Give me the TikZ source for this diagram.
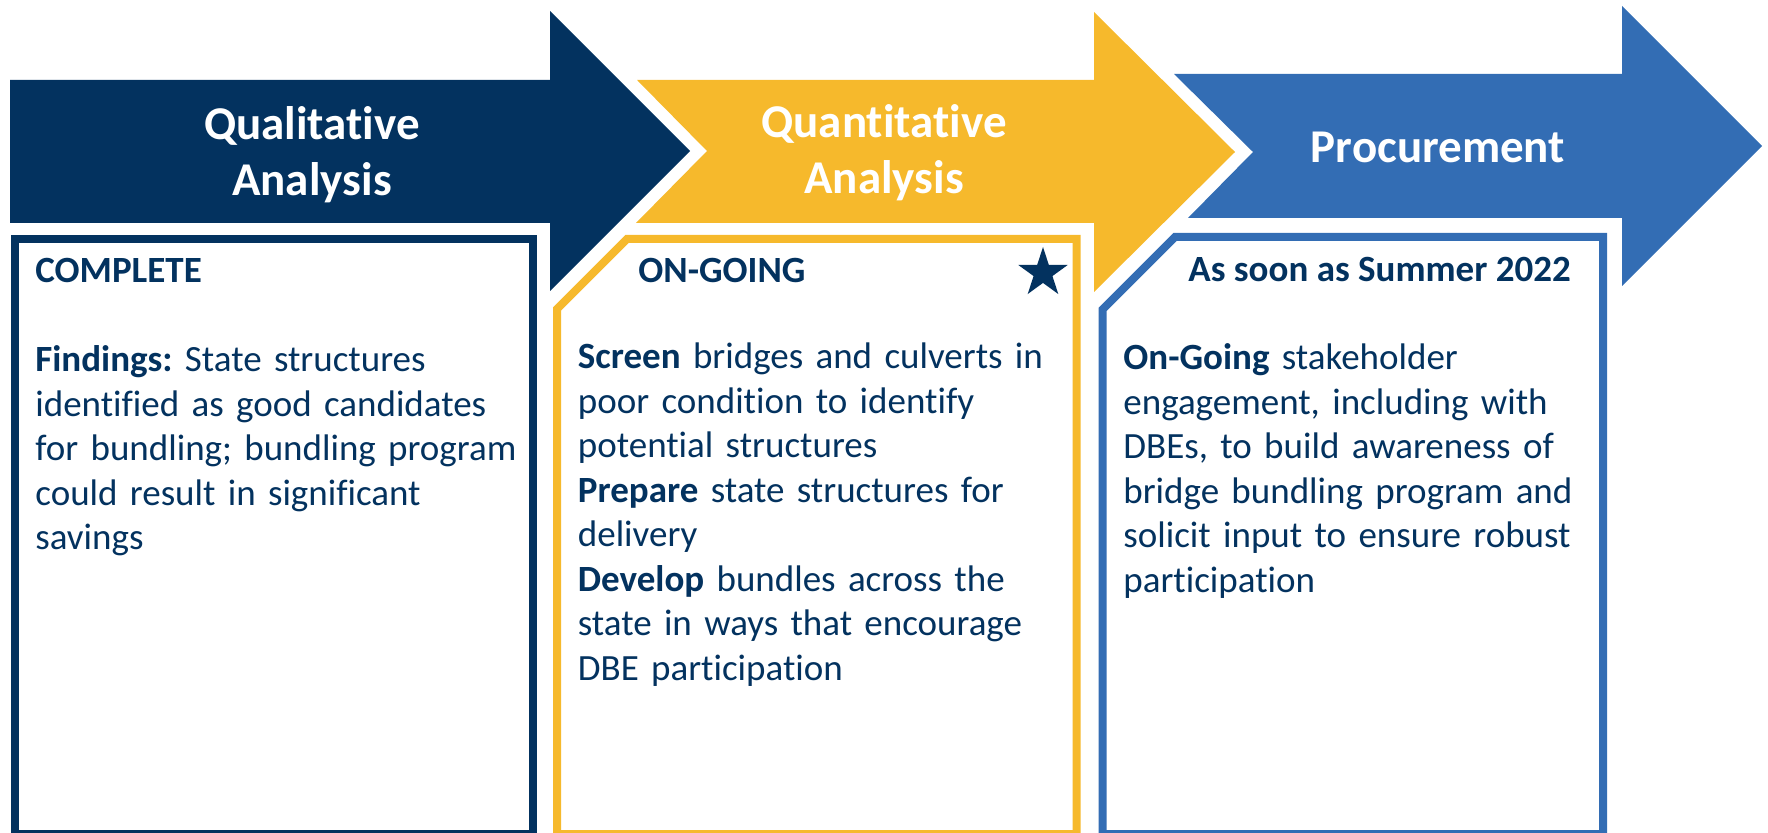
\documentclass[tikz,border=0pt]{standalone}
\usepackage{fontspec}
\setmainfont{Carlito}[Ligatures={NoCommon}]
\usetikzlibrary{shapes.geometric}
\definecolor{navy}{HTML}{03325F}
\definecolor{gold}{HTML}{F6B92C}
\definecolor{steel}{HTML}{336DB4}
\frenchspacing
\hyphenpenalty=10000
\exhyphenpenalty=10000
\begin{document}
\begin{tikzpicture}[x=0.5pt,y=-0.5pt,
  headtxt/.style={text=white,font=\fontsize{23.5}{28}\selectfont\bfseries,align=center,text width=160pt,inner sep=0pt,anchor=base},
  status/.style={text=navy,font=\fontsize{18.5}{22.25}\selectfont\bfseries,inner sep=0pt,anchor=base west},
  bodytxt/.style={text=navy,font=\fontsize{18.5}{22.25}\selectfont,align=left,text width=270pt,inner sep=0pt,anchor=base west},
  frame/.style={line width=4pt,fill=white,line join=miter}]
\useasboundingbox (0,0) rectangle (1768,833);
\clip (0,0) rectangle (1768,833);
% arrows
\fill[navy] (10,80) -- (550,80) -- (550,11) -- (690,151) -- (550,291) -- (550,223) -- (10,223) -- cycle;
\fill[gold] (637,80) -- (1094,80) -- (1094,12) -- (1235,152) -- (1094,292) -- (1094,223) -- (636,223) -- (707,151) -- cycle;
\fill[steel] (1174,74) -- (1622,74) -- (1622,6) -- (1762,146) -- (1622,286) -- (1622,218) -- (1188,218) -- (1253,152) -- cycle;
% boxes
\draw[frame,draw=navy] (14.5,239) rectangle (533,834);
\draw[frame,draw=gold] (557,834) -- (557,309) -- (627,239) -- (1076.5,239) -- (1076.5,834) -- cycle;
\draw[frame,draw=steel] (1102.5,834) -- (1102.5,309.5) -- (1175,237) -- (1603,237) -- (1603,834) -- cycle;
% headings
\node[headtxt] (h1) at (312,140) {Qualitative\\Analysis};
\node[headtxt] (h2) at (884,138) {Quantitative\\Analysis};
\node[headtxt] (h3) at (1438,163) {Procurement};
% status
\node[status] (s1) at (35,283) {COMPLETE};
\node[status] (s2) at (638,283) {ON-GOING};
\node[status] (s3) at (1188,282) {As soon as Summer 2022};
\node[star,star points=5,star point ratio=2.618,fill=navy,inner sep=0pt,minimum size=26pt] (star) at (1043,273) {};
% bodies
\node[bodytxt] (b1) at (35,372) {\textbf{Findings:} State structures\\identified as good candidates\\for bundling; bundling program\\could result in significant\\savings};
\node[bodytxt] (b2) at (577.5,369) {\textbf{Screen} bridges and culverts in\\poor condition to identify\\potential structures\\\textbf{Prepare} state structures for\\delivery\\\textbf{Develop} bundles across the\\state in ways that encourage\\DBE participation};
\node[bodytxt] (b3) at (1123,370) {\textbf{On-Going} stakeholder\\engagement, including with\\DBEs, to build awareness of\\bridge bundling program and\\solicit input to ensure robust\\participation};
\end{tikzpicture}
\end{document}
